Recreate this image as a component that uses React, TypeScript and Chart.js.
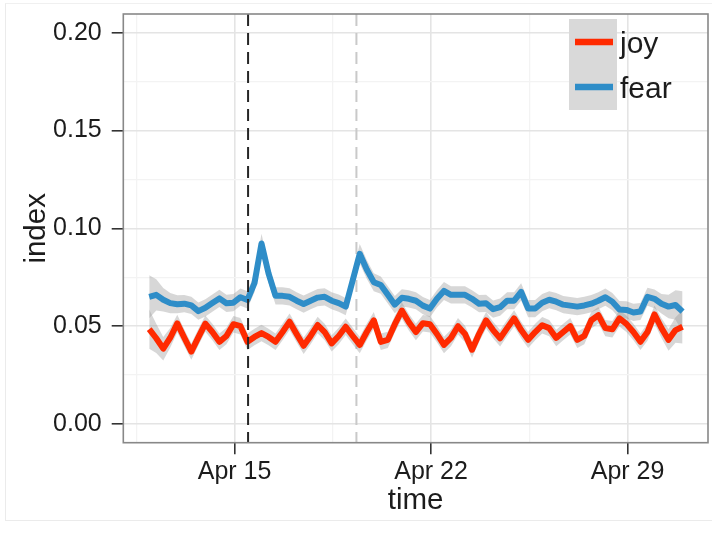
import React, { useEffect, useRef } from 'react';
import { Chart, registerables } from 'chart.js';

Chart.register(...registerables);

// ---- data (x in days of April 2013, 6-hourly observations) ----
const START_DAY = 11 + 23 / 24; // first observation: Apr 11, 23:00
const STEP_DAYS = 0.25; // 6 hours

const joy = [
  0.0485, 0.0438, 0.0385, 0.0441, 0.0514, 0.0441, 0.037, 0.0443, 0.0513, 0.047,
  0.042, 0.045, 0.051, 0.050, 0.042, 0.0445, 0.0465, 0.0445, 0.042, 0.047,
  0.0523, 0.046, 0.040, 0.045, 0.0506, 0.047, 0.0412, 0.045, 0.0497, 0.045,
  0.0404, 0.047, 0.053, 0.042, 0.043, 0.051, 0.058, 0.052, 0.047, 0.0515,
  0.051, 0.046, 0.0404, 0.044, 0.050, 0.046, 0.038, 0.046, 0.053, 0.048,
  0.0438, 0.049, 0.054, 0.048, 0.043, 0.047, 0.0505, 0.049, 0.044, 0.047,
  0.050, 0.043, 0.045, 0.053, 0.0556, 0.049, 0.0484, 0.054, 0.0512, 0.047,
  0.042, 0.047, 0.056, 0.049, 0.043, 0.048, 0.0497,
];

const fear = [
  0.065, 0.066, 0.0635, 0.0618, 0.0612, 0.0615, 0.0606, 0.0577, 0.0594, 0.0618,
  0.0642, 0.0617, 0.062, 0.0648, 0.0634, 0.072, 0.0923, 0.077, 0.0655, 0.0655,
  0.065, 0.063, 0.0613, 0.063, 0.0646, 0.065, 0.063, 0.0618, 0.060, 0.0735,
  0.087, 0.079, 0.0725, 0.071, 0.066, 0.061, 0.0645, 0.064, 0.063, 0.0605,
  0.059, 0.064, 0.068, 0.066, 0.066, 0.066, 0.064, 0.0615, 0.0617, 0.0587,
  0.0597, 0.063, 0.063, 0.0675, 0.059, 0.059, 0.062, 0.0635, 0.0625, 0.061,
  0.0605, 0.060, 0.0606, 0.0615, 0.063, 0.0648, 0.0625, 0.0585, 0.0583, 0.057,
  0.0575, 0.065, 0.064, 0.0615, 0.060, 0.0608, 0.0574,
];

// half-widths of the grey confidence ribbons
const joyCI = [
  0.010, 0.0075, 0.006, 0.005, 0.0045, 0.0042, 0.0042, 0.0042, 0.0042, 0.0042,
  0.0042, 0.0042, 0.0042, 0.0042, 0.0042, 0.0042, 0.0042, 0.0042, 0.0042, 0.0042,
  0.0042, 0.0042, 0.0042, 0.0042, 0.0042, 0.0042, 0.0042, 0.0042, 0.0042, 0.0042,
  0.0042, 0.0042, 0.0042, 0.0042, 0.0042, 0.0042, 0.0042, 0.0042, 0.0042, 0.0042,
  0.0042, 0.0042, 0.0042, 0.0042, 0.0042, 0.0042, 0.0042, 0.0042, 0.0042, 0.0042,
  0.0042, 0.0042, 0.0042, 0.0042, 0.0042, 0.0042, 0.0042, 0.0042, 0.0042, 0.0042,
  0.0042, 0.0042, 0.0042, 0.0042, 0.0042, 0.0042, 0.0042, 0.0042, 0.0042, 0.0042,
  0.0042, 0.0044, 0.0046, 0.005, 0.0055, 0.0065, 0.0085,
];

const fearCI = [
  0.011, 0.008, 0.006, 0.0052, 0.0046, 0.0044, 0.0044, 0.0044, 0.0044, 0.0044,
  0.0044, 0.0044, 0.0044, 0.0044, 0.0044, 0.0046, 0.005, 0.0048, 0.0044, 0.0044,
  0.0044, 0.0044, 0.0044, 0.0044, 0.0044, 0.0044, 0.0044, 0.0044, 0.0044, 0.0046,
  0.005, 0.0048, 0.0046, 0.0044, 0.0044, 0.0044, 0.0044, 0.0044, 0.0044, 0.0044,
  0.0044, 0.0044, 0.0046, 0.0044, 0.0044, 0.0044, 0.0044, 0.0044, 0.0044, 0.0044,
  0.0044, 0.0044, 0.0044, 0.0044, 0.0044, 0.0044, 0.0044, 0.0044, 0.0044, 0.0044,
  0.0044, 0.0044, 0.0044, 0.0044, 0.0044, 0.0044, 0.0044, 0.0044, 0.0044, 0.0044,
  0.0044, 0.0046, 0.0048, 0.005, 0.006, 0.0075, 0.0105,
];

const seriesNames = ['joy', 'fear'];

const yMajor = [0, 0.05, 0.1, 0.15, 0.2];
const yMajorLabels = ['0.00', '0.05', '0.10', '0.15', '0.20'];
const yMinor = [0.025, 0.075, 0.125, 0.175];

const xMajorDays = [15, 22, 29];
const xMajorLabels = ['Apr 15', 'Apr 22', 'Apr 29'];
const xMinorDays = [11.5, 18.5, 25.5];

const eventDays = [15.48, 19.34]; // dark dashed, light dashed

const X_MIN = 11.035;
const X_MAX = 31.865;
const Y_MIN = -0.00956;
const Y_MAX = 0.20956;

// ---- styles ----
const RED = '#FF2A00';
const BLUE = '#2E8DC8';
const BAND = 'rgba(150,150,150,0.38)';
const TEXT = '#1c1c1c';
const FONT = "'Liberation Sans', Arial, Helvetica, sans-serif";
const MAJOR_GRID = '#e4e4e4';
const MINOR_GRID = '#f3f3f3';

function isMajorVal(list: number[], v: number) {
  return list.some((m) => Math.abs(m - v) < 1e-9);
}

export default function App() {
  const ref = useRef<HTMLCanvasElement>(null);

  useEffect(() => {
    if (!ref.current) return;
    const xs = joy.map((_, i) => START_DAY + i * STEP_DAYS);
    const pts = (arr: number[]) => arr.map((v, i) => ({ x: xs[i], y: v }));
    const lo = (arr: number[], ci: number[]) => arr.map((v, i) => ({ x: xs[i], y: v - ci[i] }));
    const hi = (arr: number[], ci: number[]) => arr.map((v, i) => ({ x: xs[i], y: v + ci[i] }));

    const decor = {
      id: 'decor',
      beforeDatasetsDraw(chart: any) {
        const { ctx, chartArea: a, scales } = chart;
        ctx.save();
        ctx.strokeStyle = '#c9c9c9';
        ctx.lineWidth = 2;
        ctx.setLineDash([12, 7]);
        const x = scales.x.getPixelForValue(eventDays[1]);
        ctx.beginPath();
        ctx.moveTo(x, a.top);
        ctx.lineTo(x, a.bottom);
        ctx.stroke();
        ctx.restore();
      },
      afterDatasetsDraw(chart: any) {
        const { ctx, chartArea: a, scales } = chart;
        ctx.save();
        // dark dashed event line
        ctx.strokeStyle = '#262626';
        ctx.lineWidth = 2;
        ctx.setLineDash([12, 7]);
        const x = scales.x.getPixelForValue(eventDays[0]);
        ctx.beginPath();
        ctx.moveTo(x, a.top);
        ctx.lineTo(x, a.bottom);
        ctx.stroke();
        ctx.setLineDash([]);
        // panel border
        ctx.strokeStyle = '#888888';
        ctx.lineWidth = 1.6;
        ctx.strokeRect(a.left, a.top, a.right - a.left, a.bottom - a.top);
        // legend
        ctx.fillStyle = '#d9d9d9';
        ctx.fillRect(569, 19, 48, 91);
        ctx.lineWidth = 6.5;
        ctx.lineCap = 'butt';
        const keyY = [42, 87];
        const cols = [RED, BLUE];
        const baseY = [53, 98];
        for (let k = 0; k < 2; k++) {
          ctx.strokeStyle = cols[k];
          ctx.beginPath();
          ctx.moveTo(575, keyY[k]);
          ctx.lineTo(613, keyY[k]);
          ctx.stroke();
          ctx.fillStyle = TEXT;
          ctx.font = `30px ${FONT}`;
          ctx.textAlign = 'left';
          ctx.textBaseline = 'alphabetic';
          ctx.fillText(seriesNames[k], 620, baseY[k]);
        }
        ctx.restore();
      },
    };

    const bandBase = { borderWidth: 0, pointRadius: 0, borderColor: 'rgba(0,0,0,0)', order: 2 };
    const noPad = (s: any) => {
      s.paddingTop = 0;
      s.paddingBottom = 0;
      s.paddingLeft = 0;
      s.paddingRight = 0;
    };

    const chart = new Chart(ref.current, {
      type: 'line',
      data: {
        datasets: [
          { ...bandBase, label: 'joy-lo', data: lo(joy, joyCI), fill: false },
          { ...bandBase, label: 'joy-hi', data: hi(joy, joyCI), fill: 0, backgroundColor: BAND },
          { ...bandBase, label: 'fear-lo', data: lo(fear, fearCI), fill: false },
          { ...bandBase, label: 'fear-hi', data: hi(fear, fearCI), fill: 2, backgroundColor: BAND },
          {
            label: seriesNames[0], data: pts(joy), borderColor: RED, borderWidth: 6, pointRadius: 0,
            fill: false, order: 0, borderJoinStyle: 'round', borderCapStyle: 'butt',
          },
          {
            label: seriesNames[1], data: pts(fear), borderColor: BLUE, borderWidth: 6, pointRadius: 0,
            fill: false, order: 1, borderJoinStyle: 'round', borderCapStyle: 'butt',
          },
        ],
      } as any,
      options: {
        animation: false,
        responsive: false,
        devicePixelRatio: 1,
        events: [],
        layout: { padding: { left: 0, right: 4, top: 14, bottom: 0 } },
        elements: { line: { tension: 0 }, point: { radius: 0 } },
        plugins: { legend: { display: false }, tooltip: { enabled: false } },
        scales: {
          x: {
            type: 'linear',
            min: X_MIN,
            max: X_MAX,
            afterFit: (s: any) => { s.height = 91.3; noPad(s); },
            afterBuildTicks: (s: any) => {
              s.ticks = [...xMinorDays, ...xMajorDays].sort((a, b) => a - b).map((v) => ({ value: v }));
            },
            ticks: {
              autoSkip: false,
              maxRotation: 0,
              minRotation: 0,
              padding: 3.3,
              color: TEXT,
              font: { family: FONT, size: 25 },
              callback: (v: any) => {
                const k = xMajorDays.findIndex((m) => Math.abs(m - v) < 1e-9);
                return k >= 0 ? xMajorLabels[k] : '';
              },
            },
            grid: {
              color: (c: any) => (c.tick && isMajorVal(xMajorDays, c.tick.value) ? MAJOR_GRID : MINOR_GRID),
              lineWidth: (c: any) => (c.tick && isMajorVal(xMajorDays, c.tick.value) ? 1.6 : 1.3),
              tickColor: (c: any) => (c.tick && isMajorVal(xMajorDays, c.tick.value) ? '#333333' : 'rgba(0,0,0,0)'),
              tickLength: 11.6,
              tickWidth: 1.6,
              drawTicks: true,
            },
            border: { display: false },
            title: {
              display: true,
              text: 'time',
              color: TEXT,
              font: { family: FONT, size: 29.5 },
              padding: { top: 0, bottom: 15.5 },
            },
          },
          y: {
            type: 'linear',
            min: Y_MIN,
            max: Y_MAX,
            afterFit: (s: any) => { s.width = 123.3; noPad(s); },
            afterBuildTicks: (s: any) => {
              s.ticks = [...yMinor, ...yMajor].sort((a, b) => a - b).map((v) => ({ value: v }));
            },
            ticks: {
              autoSkip: false,
              padding: 10,
              color: TEXT,
              font: { family: FONT, size: 25 },
              callback: (v: any) => {
                const k = yMajor.findIndex((m) => Math.abs(m - v) < 1e-9);
                return k >= 0 ? yMajorLabels[k] : '';
              },
            },
            grid: {
              color: (c: any) => (c.tick && isMajorVal(yMajor, c.tick.value) ? MAJOR_GRID : MINOR_GRID),
              lineWidth: (c: any) => (c.tick && isMajorVal(yMajor, c.tick.value) ? 1.6 : 1.3),
              tickColor: (c: any) => (c.tick && isMajorVal(yMajor, c.tick.value) ? '#333333' : 'rgba(0,0,0,0)'),
              tickLength: 11.6,
              tickWidth: 1.6,
              drawTicks: true,
            },
            border: { display: false },
            title: {
              display: true,
              text: 'index',
              color: TEXT,
              font: { family: FONT, size: 29.5 },
              padding: { top: 18.8, bottom: 0 },
            },
          },
        },
      } as any,
      plugins: [decor],
    });

    return () => chart.destroy();
  }, []);

  return (
    <div style={{ position: 'fixed', left: 0, top: 0, width: 712, height: 534, background: '#ffffff' }}>
      <div
        style={{
          position: 'absolute', left: 5, top: 3, width: 707, height: 518, boxSizing: 'border-box',
          borderLeft: '1px solid #ebebeb', borderTop: '1px solid #f0f0f0', borderBottom: '1px solid #ebebeb',
        }}
      />
      <canvas ref={ref} width={712} height={534} style={{ position: 'absolute', left: 0, top: 0, width: 712, height: 534 }} />
    </div>
  );
}
